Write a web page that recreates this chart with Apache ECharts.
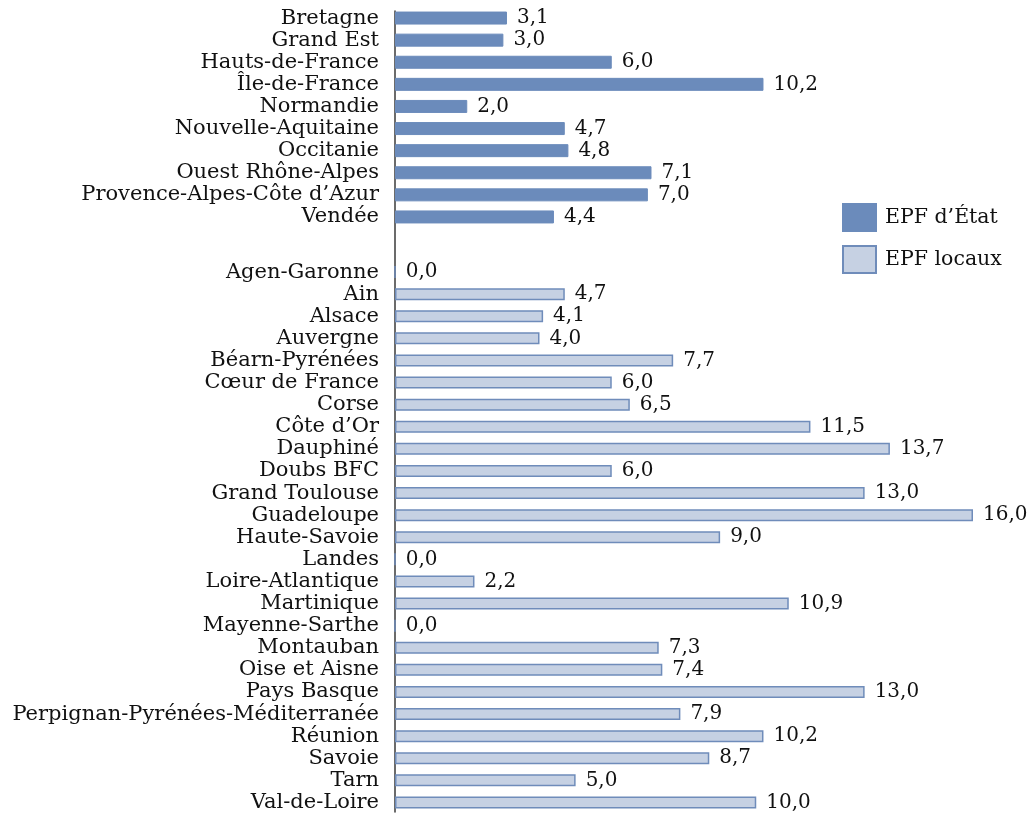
<!DOCTYPE html>
<html>
<head>
<meta charset="utf-8">
<script src="https://cdn.jsdelivr.net/npm/echarts@6/dist/echarts.min.js"></script>
<style>
html,body{margin:0;padding:0;background:#fff;}
#chart{width:1035px;height:814px;}
</style>
</head>
<body>
<div id="chart"></div>
<script>
const stateNames = ['Bretagne','Grand Est','Hauts-de-France','Île-de-France','Normandie','Nouvelle-Aquitaine','Occitanie','Ouest Rhône-Alpes','Provence-Alpes-Côte d’Azur','Vendée'];
const stateValues = [3.1, 3.0, 6.0, 10.2, 2.0, 4.7, 4.8, 7.1, 7.0, 4.4];
const localNames = ['Agen-Garonne','Ain','Alsace','Auvergne','Béarn-Pyrénées','Cœur de France','Corse','Côte d’Or','Dauphiné','Doubs BFC','Grand Toulouse','Guadeloupe','Haute-Savoie','Landes','Loire-Atlantique','Martinique','Mayenne-Sarthe','Montauban','Oise et Aisne','Pays Basque','Perpignan-Pyrénées-Méditerranée','Réunion','Savoie','Tarn','Val-de-Loire'];
const localValues = [0.0, 4.7, 4.1, 4.0, 7.7, 6.0, 6.5, 11.5, 13.7, 6.0, 13.0, 16.0, 9.0, 0.0, 2.2, 10.9, 0.0, 7.3, 7.4, 13.0, 7.9, 10.2, 8.7, 5.0, 10.0];
const seriesNames = ['EPF d’État', 'EPF locaux'];

const FONT = '"DejaVu Serif", serif';
const fmt = p => Number(p.value).toFixed(1).replace('.', ',');
const chart = echarts.init(document.getElementById('chart'), null, {renderer: 'canvas'});

const catAxis = (names, gi) => ({
  type: 'category', gridIndex: gi, data: names, inverse: true,
  axisLine: {show: false}, axisTick: {show: false}, splitLine: {show: false},
  axisLabel: {interval: 0, margin: 16, fontFamily: FONT, fontSize: 21, color: '#111'}
});
const valAxis = gi => ({type: 'value', gridIndex: gi, min: 0, max: 16, show: false});
const labelCfg = {show: true, position: 'right', distance: 10, formatter: fmt, fontFamily: FONT, fontSize: 20, color: '#111'};

chart.setOption({
  animation: false,
  backgroundColor: '#fff',
  grid: [
    {left: 395, width: 578, top: 7, height: 221},
    {left: 395, width: 578, top: 261, height: 552.5},
    {left: 395, width: 578, top: 11, height: 801}
  ],
  legend: {
    orient: 'vertical', left: 837, top: 198, itemWidth: 33, itemHeight: 27, itemGap: 13,
    icon: 'rect', data: seriesNames,
    textStyle: {fontFamily: FONT, fontSize: 20.5, color: '#111', padding: [0, 0, 0, 4]}
  },
  xAxis: [valAxis(0), valAxis(1), {type: 'value', gridIndex: 2, show: false, min: 0, max: 1}],
  yAxis: [
    catAxis(stateNames, 0),
    catAxis(localNames, 1),
    {type: 'value', gridIndex: 2, min: 0, max: 1, axisLine: {show: true, lineStyle: {color: '#3a3a3a', width: 1.5}},
     axisTick: {show: false}, axisLabel: {show: false}, splitLine: {show: false}}
  ],
  series: [
    {name: seriesNames[0], type: 'bar', xAxisIndex: 0, yAxisIndex: 0, data: stateValues, barWidth: 13,
     itemStyle: {color: '#6b8bbb', borderColor: '#6b8bbb', borderWidth: 1}, label: labelCfg},
    {name: seriesNames[1], type: 'bar', xAxisIndex: 1, yAxisIndex: 1, data: localValues, barWidth: 12,
     itemStyle: {color: '#c6d1e3', borderColor: '#6f8cba', borderWidth: 1.5}, label: labelCfg}
  ]
});
</script>
</body>
</html>
